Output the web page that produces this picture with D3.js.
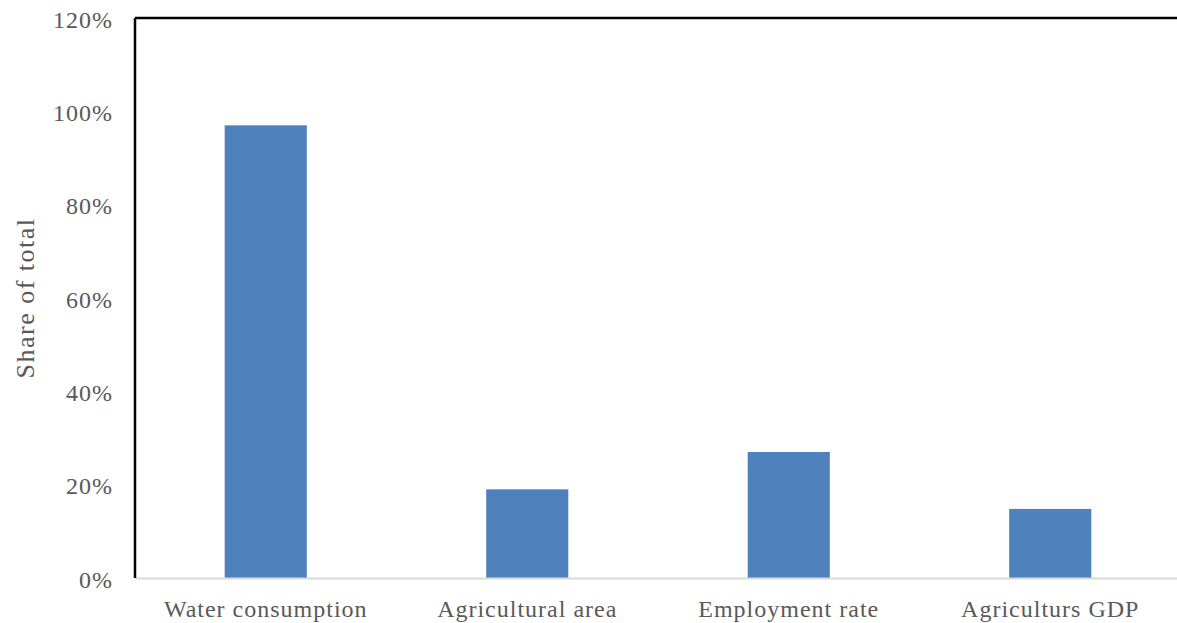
<!DOCTYPE html>
<html>
<head>
<meta charset="utf-8">
<script src="https://cdn.jsdelivr.net/npm/d3@7"></script>
<style>
	body { margin: 0; background: #fff; }
	.tick text { font-family: "Liberation Serif", "Times New Roman", serif; fill: #595959; letter-spacing: 1px; }
</style>
</head>
<body>
<script>
//categories and values
var categories = ["Water consumption", "Agricultural area", "Employment rate", "Agriculturs GDP"];
var shares = [0.97, 0.19, 0.27, 0.148];
var yTicks = [0, 0.2, 0.4, 0.6, 0.8, 1.0, 1.2];

(function(){
	var width = 1177, height = 623;
	var margin = {top: 18, right: -4, bottom: 45, left: 135};
	var innerW = width - margin.left - margin.right,
		innerH = height - margin.top - margin.bottom;

	var svg = d3.select("body").append("svg")
		.attr("width", width)
		.attr("height", height);

	var g = svg.append("g")
		.attr("transform", "translate(" + margin.left + "," + margin.top + ")");

	var x = d3.scaleBand()
		.domain(categories)
		.range([0, innerW])
		.paddingInner(0.686)
		.paddingOuter(0.343);

	var y = d3.scaleLinear()
		.domain([0, 1.2])
		.range([innerH, 0]);

	//bars
	g.selectAll(".bar")
		.data(categories)
		.enter()
		.append("rect")
		.attr("class", "bar")
		.attr("x", function(d){ return x(d); })
		.attr("width", x.bandwidth())
		.attr("y", function(d, i){ return y(shares[i]); })
		.attr("height", function(d, i){ return innerH - y(shares[i]); })
		.attr("fill", "#4f81bd");

	//y axis
	var yAxis = g.append("g")
		.call(d3.axisLeft(y).tickValues(yTicks).tickFormat(d3.format(".0%")).tickSize(0).tickPadding(22));
	yAxis.select(".domain").remove();
	yAxis.selectAll("text").style("font-size", "24px").attr("dy", "0.38em");

	//x axis
	var xAxis = g.append("g")
		.attr("transform", "translate(0," + innerH + ")")
		.call(d3.axisBottom(x).tickSize(0).tickPadding(22));
	xAxis.select(".domain").attr("stroke", "#d9d9d9").attr("stroke-width", 2);
	xAxis.selectAll("text").style("font-size", "24px");

	//frame lines: top and left
	g.append("line")
		.attr("x1", 0).attr("x2", innerW)
		.attr("y1", 0).attr("y2", 0)
		.attr("stroke", "#000").attr("stroke-width", 2.5);
	g.append("line")
		.attr("x1", 0).attr("x2", 0)
		.attr("y1", 0).attr("y2", innerH)
		.attr("stroke", "#000").attr("stroke-width", 2.5);

	//y axis title
	svg.append("text")
		.attr("transform", "translate(34," + 298 + ") rotate(-90)")
		.attr("text-anchor", "middle")
		.style("font-family", "'Liberation Serif', 'Times New Roman', serif")
		.style("font-size", "26px")
		.style("letter-spacing", "1.5px")
		.style("fill", "#595959")
		.text("Share of total");
})();
</script>
</body>
</html>
